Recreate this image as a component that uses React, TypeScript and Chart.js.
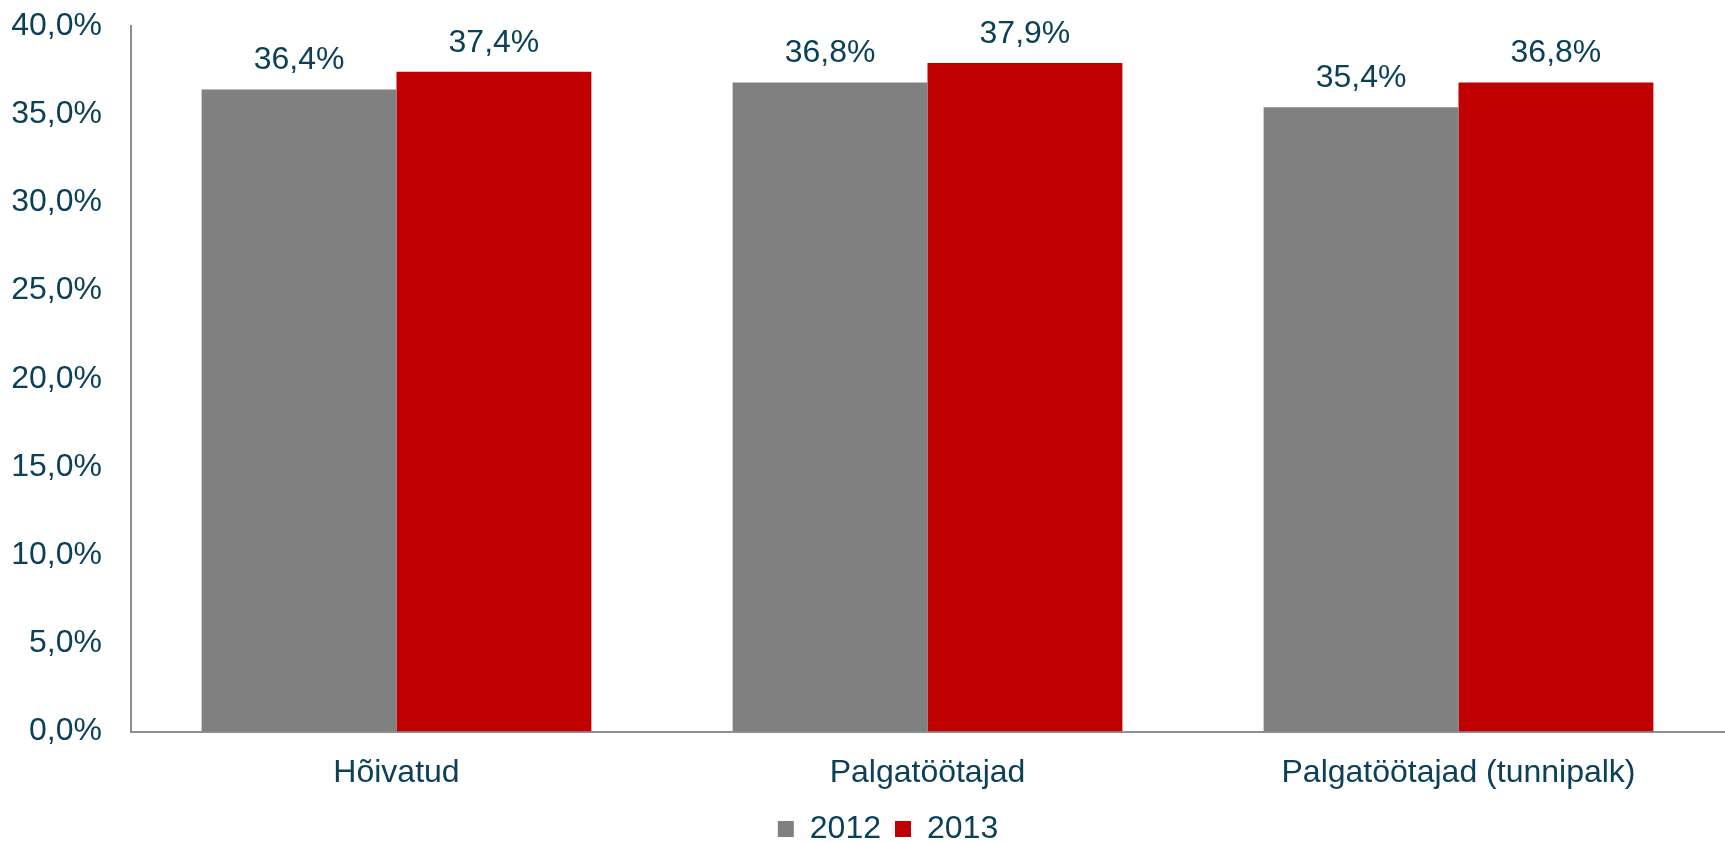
import React, { useEffect, useRef } from "react";
import { Chart, registerables } from "chart.js";

Chart.register(...registerables);

const categories = ["Hõivatud", "Palgatöötajad", "Palgatöötajad (tunnipalk)"];
const series2012 = [36.4, 36.8, 35.4];
const series2013 = [37.4, 37.9, 36.8];
const seriesLabels = ["2012", "2013"];
const yMin = 0;
const yMax = 40;
const yStep = 5;

const TEXT = "#0b4059";
const AXIS = "#8b9096";
const FONT = "'Liberation Sans', Arial, sans-serif";
const FS = 32;

const fmt = (v: number) => v.toFixed(1).replace(".", ",") + "%";

const dataLabelPlugin = {
  id: "dataLabels",
  afterLayout(chart: any) {
    if (chart.legend) {
      chart.legend.left += 26;
      chart.legend.right += 26;
    }
  },
  afterDatasetsDraw(chart: any) {
    const ctx = chart.ctx;
    ctx.save();
    ctx.fillStyle = TEXT;
    ctx.font = `${FS}px ${FONT}`;
    ctx.textAlign = "center";
    ctx.textBaseline = "middle";
    chart.data.datasets.forEach((ds: any, i: number) => {
      const meta = chart.getDatasetMeta(i);
      meta.data.forEach((bar: any, j: number) => {
        ctx.fillText(fmt(ds.data[j]), bar.x, bar.y - 29);
      });
    });
    ctx.restore();
  },
};

export default function App() {
  const ref = useRef<HTMLCanvasElement | null>(null);
  useEffect(() => {
    if (!ref.current) return;
    const chart = new Chart(ref.current, {
      type: "bar",
      data: {
        labels: categories,
        datasets: [
          {
            label: seriesLabels[0],
            data: series2012,
            backgroundColor: "#808080",
            categoryPercentage: 0.734,
            barPercentage: 1,
          },
          {
            label: seriesLabels[1],
            data: series2013,
            backgroundColor: "#c00000",
            categoryPercentage: 0.734,
            barPercentage: 1,
          },
        ],
      },
      options: {
        responsive: false,
        animation: false,
        layout: { padding: { top: 0, right: 1, left: 0, bottom: -13 } },
        plugins: {
          legend: {
            position: "bottom",
            labels: {
              color: TEXT,
              font: { family: FONT, size: FS },
              boxWidth: 16,
              boxHeight: 16,
              padding: 14,
            },
          },
          tooltip: { enabled: false },
        },
        scales: {
          x: {
            grid: { display: false, drawTicks: false },
            border: { display: true, color: AXIS, width: 2 },
            ticks: {
              color: TEXT,
              font: { family: FONT, size: FS },
              padding: 22,
              maxRotation: 0,
            },
            afterFit: (scale: any) => {
              scale.height -= 15;
            },
          },
          y: {
            min: yMin,
            max: yMax,
            grid: { display: false, drawTicks: false },
            border: { display: true, color: AXIS, width: 2 },
            ticks: {
              stepSize: yStep,
              color: TEXT,
              font: { family: FONT, size: FS },
              padding: 29,
              callback: (v: any) => fmt(Number(v)),
            },
            afterFit: (scale: any) => {
              scale.width = 131;
              scale.paddingTop = 26;
            },
          },
        },
      },
      plugins: [dataLabelPlugin],
    });
    return () => chart.destroy();
  }, []);
  return (
    <div style={{ position: "absolute", left: 0, top: 0, width: 1725, height: 842, background: "#fff" }}>
      <canvas ref={ref} width={1725} height={842} />
    </div>
  );
}
